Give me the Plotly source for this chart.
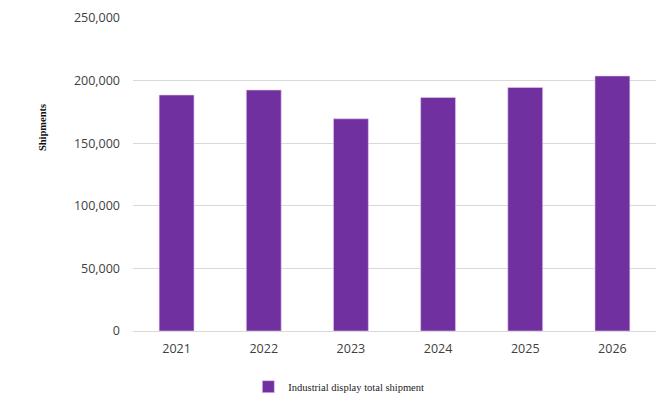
import plotly.graph_objects as go

# shipment totals
years = ["2021", "2022", "2023", "2024", "2025", "2026"]
shipments = [188500, 192500, 169500, 186500, 194500, 203700]
series_name = "Industrial display total shipment"
y_ticks = [0, 50000, 100000, 150000, 200000, 250000]

PURPLE = "#7030A0"
GRID = "#d9d9d9"
TICK_FONT = dict(family="Open Sans", size=12.5, color="#404040")

fig = go.Figure(go.Bar(
    x=years, y=shipments, name=series_name,
    marker=dict(color=PURPLE, line=dict(color="#e6c8f0", width=0.6)),
))

fig.update_layout(
    width=667, height=407,
    margin=dict(l=133, r=11, t=18, b=76, autoexpand=False),
    paper_bgcolor="white", plot_bgcolor="white",
    bargap=0.6,
    showlegend=True,
    legend=dict(
        orientation="h", xref="container", yref="container",
        x=0.508, xanchor="center", y=0.05, yanchor="middle",
        font=dict(family="Liberation Serif", size=10.5, color="#222"),
        itemwidth=30,
    ),
)
fig.update_xaxes(
    showgrid=False, showline=True, linecolor=GRID, linewidth=1,
    tickfont=TICK_FONT, ticklabelstandoff=6,
)
fig.update_yaxes(
    range=[0, 250000], tickvals=y_ticks, tickformat=",",
    showgrid=True, gridcolor=GRID, gridwidth=1,
    zeroline=False, showline=False,
    tickfont=TICK_FONT, ticklabelstandoff=12,
)
fig.add_annotation(
    text="<b>Shipments</b>", textangle=-90, showarrow=False,
    xref="paper", yref="paper", x=-0.173, y=0.65,
    xanchor="center", yanchor="middle",
    font=dict(family="Liberation Serif", size=10.5, color="#111"),
)

# page body has an 8px default margin; drop it so the chart sits at 0,0
fig.write_html(
    "out.html",
    config={"displayModeBar": False},
    post_script="document.body.style.margin='0';",
)
